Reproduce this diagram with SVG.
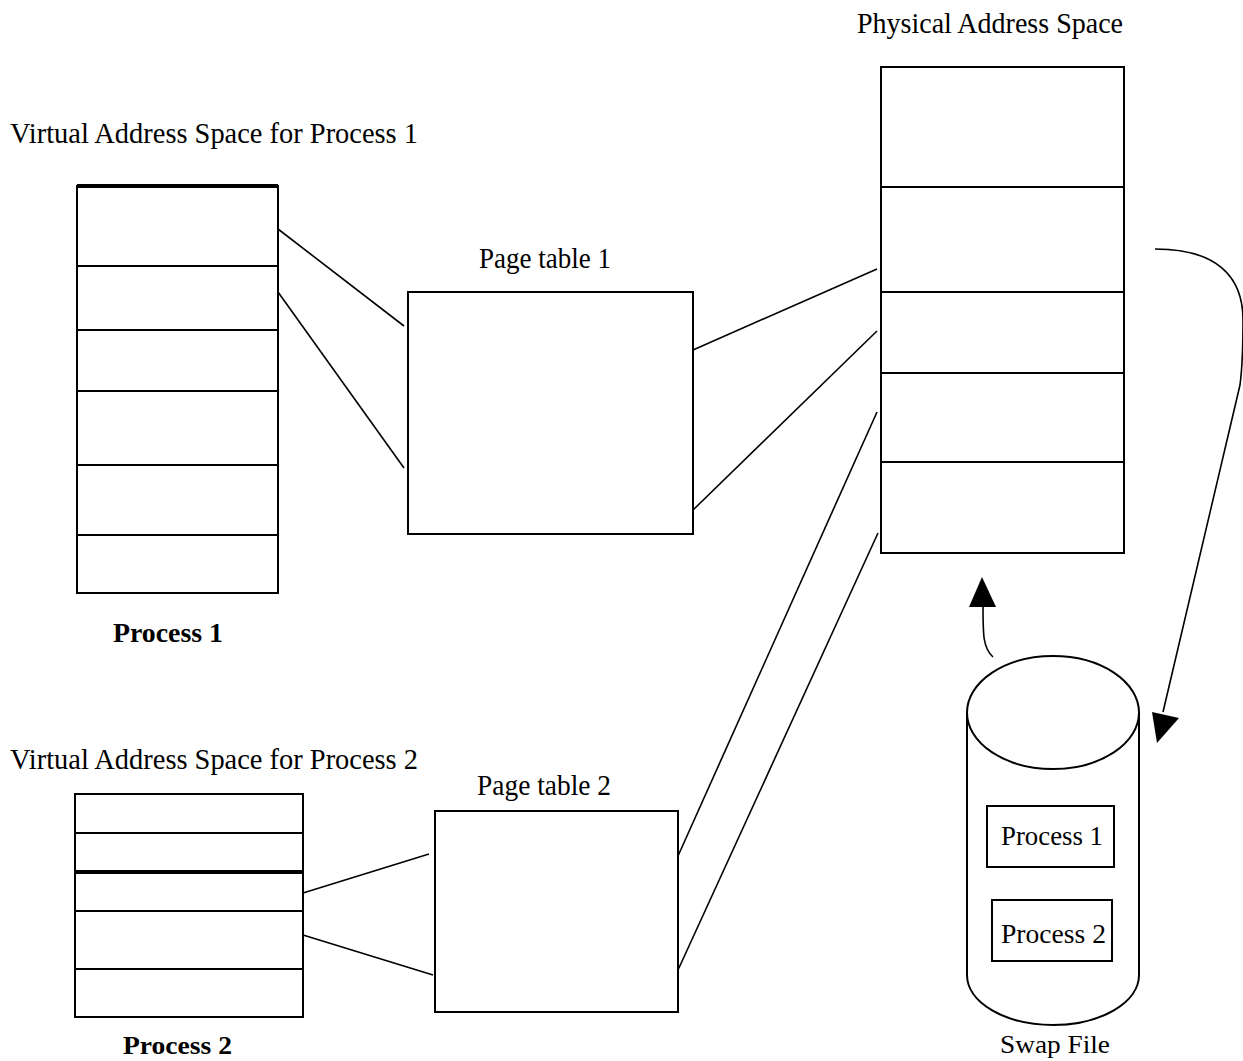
<svg xmlns="http://www.w3.org/2000/svg" width="1243" height="1061" viewBox="0 0 1243 1061">
<style>
.box{fill:none;stroke:#000;stroke-width:2}
.row{stroke:#000;stroke-width:2}
.thick{stroke:#000;stroke-width:4}
.con{fill:none;stroke:#000;stroke-width:1.6}
.t{font-family:"Liberation Serif","Times New Roman",serif;font-size:29px;fill:#000}
.tb{font-family:"Liberation Serif","Times New Roman",serif;font-size:28px;font-weight:bold;fill:#000}
.ts{font-family:"Liberation Serif","Times New Roman",serif;font-size:28px;fill:#000}
</style>
<rect width="1243" height="1061" fill="#fff"/>
<g id="vas1">
<text class="t" x="10" y="143" textLength="408" lengthAdjust="spacingAndGlyphs">Virtual Address Space for Process 1</text>
<rect class="box" x="77" y="186" width="201" height="407"/>
<line class="thick" x1="77" y1="186" x2="278" y2="186"/>
<line class="row" x1="77" y1="266" x2="278" y2="266"/>
<line class="row" x1="77" y1="330" x2="278" y2="330"/>
<line class="row" x1="77" y1="391" x2="278" y2="391"/>
<line class="row" x1="77" y1="465" x2="278" y2="465"/>
<line class="row" x1="77" y1="535" x2="278" y2="535"/>
<text class="tb" x="113" y="642" textLength="110" lengthAdjust="spacingAndGlyphs">Process 1</text>
</g>
<g id="pt1">
<text class="t" x="479" y="268" textLength="132" lengthAdjust="spacingAndGlyphs">Page table 1</text>
<rect class="box" x="408" y="292" width="285" height="242"/>
</g>
<g id="phys">
<text class="t" x="857" y="33" textLength="266" lengthAdjust="spacingAndGlyphs">Physical Address Space</text>
<rect class="box" x="881" y="67" width="243" height="486"/>
<line class="row" x1="881" y1="187" x2="1124" y2="187"/>
<line class="row" x1="881" y1="292" x2="1124" y2="292"/>
<line class="row" x1="881" y1="373" x2="1124" y2="373"/>
<line class="row" x1="881" y1="462" x2="1124" y2="462"/>
</g>
<g id="vas2">
<text class="t" x="10" y="769" textLength="408" lengthAdjust="spacingAndGlyphs">Virtual Address Space for Process 2</text>
<rect class="box" x="75" y="794" width="228" height="223"/>
<line class="row" x1="75" y1="833" x2="303" y2="833"/>
<line class="thick" x1="75" y1="872" x2="303" y2="872"/>
<line class="row" x1="75" y1="911" x2="303" y2="911"/>
<line class="row" x1="75" y1="969" x2="303" y2="969"/>
<text class="tb" x="123" y="1054" font-size="26" textLength="109" lengthAdjust="spacingAndGlyphs" style="font-size:26px">Process 2</text>
</g>
<g id="pt2">
<text class="t" x="477" y="795" textLength="134" lengthAdjust="spacingAndGlyphs">Page table 2</text>
<rect class="box" x="435" y="811" width="243" height="201"/>
</g>
<g id="swap">
<path class="box" d="M967,712 V975 A86,50 0 0 0 1139,975 V712"/>
<ellipse class="box" cx="1053" cy="712.5" rx="86" ry="56.5"/>
<rect class="box" x="987" y="806" width="127" height="61"/>
<text class="ts" x="1001" y="845" textLength="102" lengthAdjust="spacingAndGlyphs">Process 1</text>
<rect class="box" x="992" y="900" width="120" height="61"/>
<text class="ts" x="1001" y="943" textLength="105" lengthAdjust="spacingAndGlyphs">Process 2</text>
<text class="ts" x="1000" y="1053" textLength="110" lengthAdjust="spacingAndGlyphs" style="font-size:26px">Swap File</text>
</g>
<g id="connectors">
<line class="con" x1="278" y1="229" x2="404" y2="326"/>
<line class="con" x1="278" y1="292" x2="404" y2="468"/>
<line class="con" x1="693" y1="350" x2="877" y2="269"/>
<line class="con" x1="693" y1="510" x2="877" y2="331"/>
<line class="con" x1="678" y1="856" x2="877" y2="412"/>
<line class="con" x1="678" y1="970" x2="878" y2="533"/>
<line class="con" x1="303" y1="893" x2="429" y2="854"/>
<line class="con" x1="303" y1="935" x2="433" y2="975"/>
<path class="con" d="M1155,249 C1215,249 1243,275 1243,320 C1243,350 1242,370 1240,385 L1163,712"/>
<polygon points="1152,712 1179,718 1157,743" fill="#000"/>
<path class="con" d="M993,657 C983,648 983,635 983,606"/>
<polygon points="982,577 969,607 996,607" fill="#000"/>
</g>
</svg>
